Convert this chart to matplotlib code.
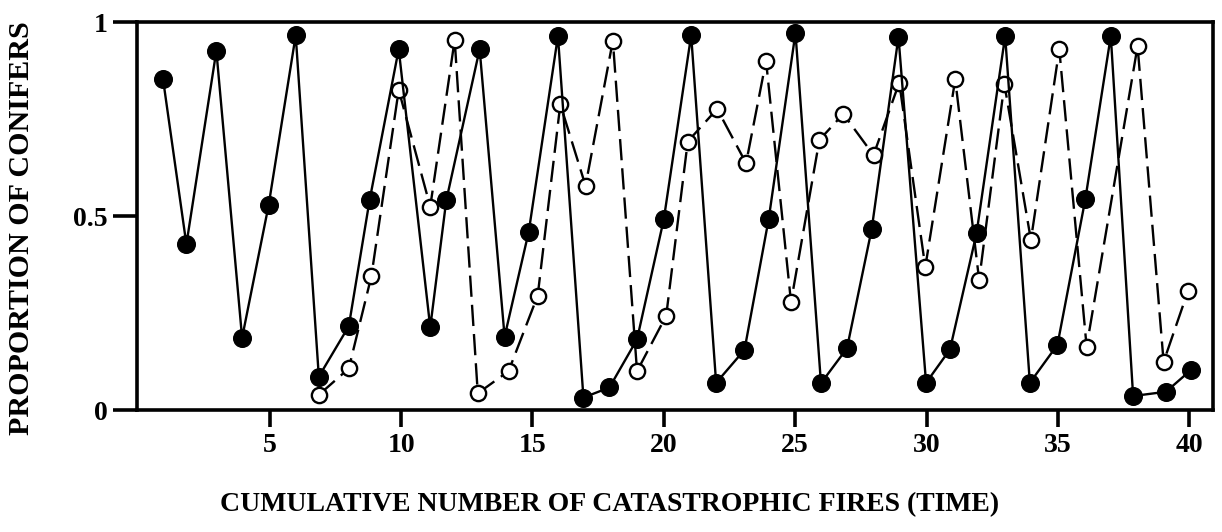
import matplotlib
matplotlib.use("Agg")
import matplotlib.pyplot as plt

# values
filled_x = [0.94, 1.83, 2.97, 3.95, 4.96, 5.99, 6.87, 8.01, 8.80, 9.91,
            11.11, 11.72, 12.99, 13.94, 14.86, 15.97, 16.94, 17.93, 18.98, 20.0,
            21.04, 21.99, 23.07, 23.99, 25.01, 25.98, 26.97, 27.91, 28.93, 29.98,
            30.89, 31.90, 32.99, 33.93, 34.98, 36.04, 37.01, 37.86, 39.11, 40.06]
filled_y = [0.853, 0.427, 0.926, 0.186, 0.528, 0.966, 0.086, 0.216, 0.540, 0.930,
            0.213, 0.540, 0.930, 0.189, 0.460, 0.964, 0.032, 0.058, 0.182, 0.492,
            0.966, 0.070, 0.155, 0.492, 0.972, 0.069, 0.159, 0.466, 0.962, 0.070,
            0.156, 0.455, 0.964, 0.070, 0.168, 0.543, 0.964, 0.036, 0.047, 0.103]

open_x = [6.87, 8.01, 8.87, 9.91, 11.11, 12.04, 12.92, 14.09, 15.20, 16.06,
          17.02, 18.06, 18.98, 20.09, 20.91, 22.03, 23.13, 23.89, 24.84, 25.92,
          26.83, 27.98, 28.96, 29.95, 31.09, 32.0, 32.96, 33.97, 35.05, 36.09,
          38.03, 39.02, 39.95]
open_y = [0.039, 0.107, 0.345, 0.825, 0.524, 0.954, 0.043, 0.100, 0.295, 0.788,
          0.578, 0.952, 0.100, 0.243, 0.692, 0.776, 0.636, 0.900, 0.278, 0.696,
          0.763, 0.657, 0.844, 0.368, 0.852, 0.335, 0.840, 0.438, 0.930, 0.163,
          0.938, 0.124, 0.307]

x_ticks = [5, 10, 15, 20, 25, 30, 35, 40]
y_ticks = [0, 0.5, 1]
y_tick_labels = ["0", "0.5", "1"]

plt.rcParams["font.family"] = "Liberation Serif"
plt.rcParams["font.weight"] = "bold"

fig = plt.figure(figsize=(12.22, 5.32), dpi=100)
ax = fig.add_axes([137 / 1222, 1 - 410 / 532, (1213 - 137) / 1222, (410 - 22) / 532])

ax.plot(open_x, open_y, color="black", lw=1.7, dashes=(9.0, 3.4),
        marker="o", ms=11, mfc="white", mec="black", mew=1.7, zorder=2)
ax.plot(filled_x, filled_y, color="black", lw=1.7, marker="o", ms=12.7,
        mfc="black", mec="black", zorder=3)

ax.set_xlim(-0.05, 40.9)
ax.set_ylim(0, 1)
ax.set_xticks(x_ticks)
ax.set_yticks(y_ticks)
ax.set_yticklabels(y_tick_labels)

for s in ax.spines.values():
    s.set_linewidth(2.6)
ax.tick_params(axis="y", length=17, width=2.6, pad=4, labelsize=20)
ax.tick_params(axis="x", length=12.5, width=2.6, pad=4, labelsize=20)
for lab in ax.get_xticklabels() + ax.get_yticklabels():
    lab.set_fontweight("bold")

fig.text(22 / 1222, 1 - 228 / 532, "PROPORTION OF CONIFERS", rotation=90,
         ha="center", va="center", fontsize=21.6, fontweight="bold")
fig.text(610 / 1222, 1 - 505 / 532, "CUMULATIVE NUMBER OF CATASTROPHIC FIRES (TIME)",
         ha="center", va="center", fontsize=20, fontweight="bold")

fig.savefig("out.png", dpi=100)
